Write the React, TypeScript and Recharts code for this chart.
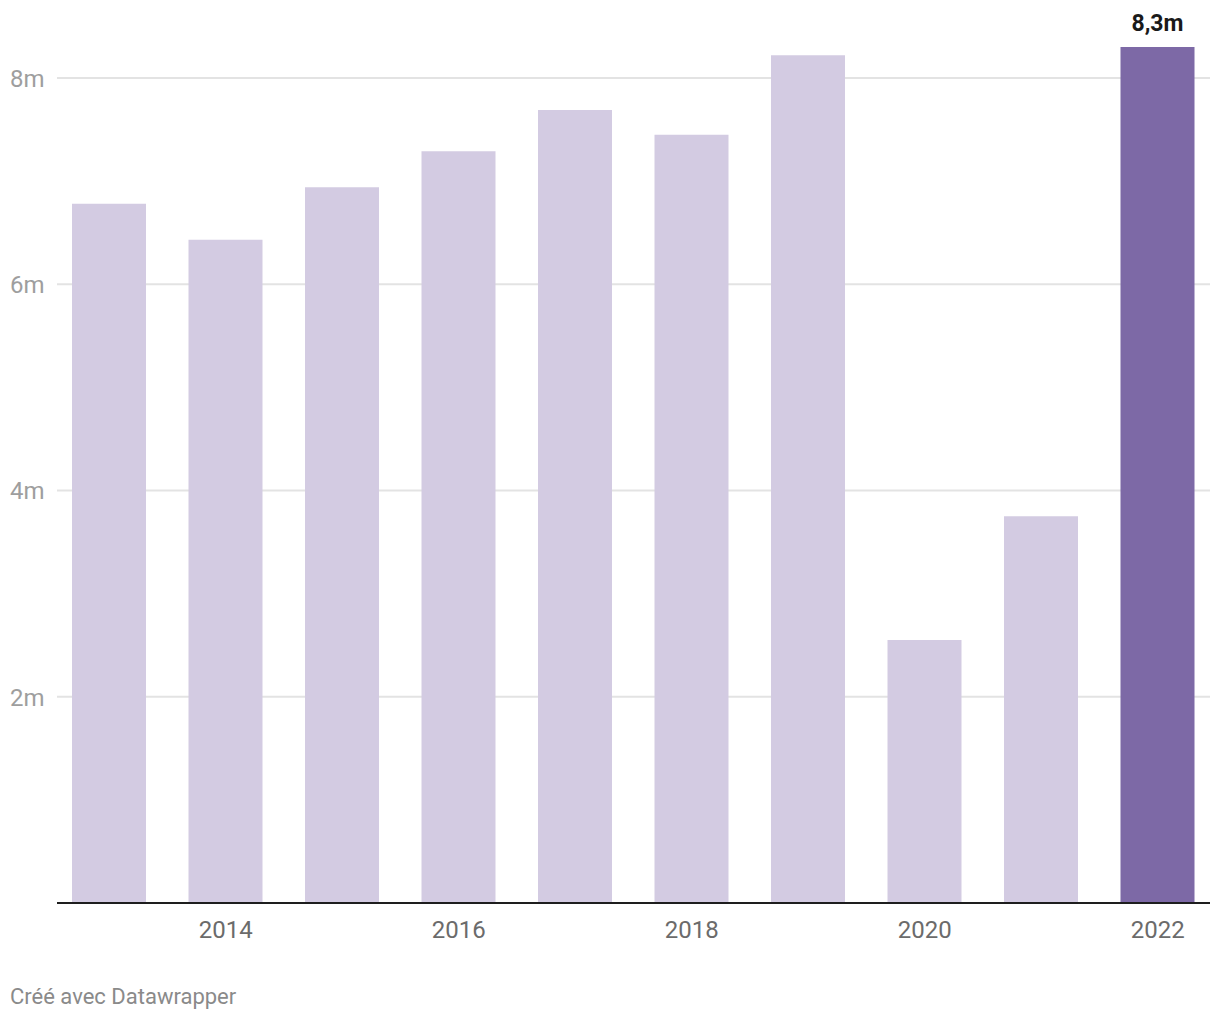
import { BarChart, Bar, XAxis, YAxis, CartesianGrid, Cell, LabelList } from "recharts";

const years = ["2013", "2014", "2015", "2016", "2017", "2018", "2019", "2020", "2021", "2022"];
const values = [6.78, 6.43, 6.94, 7.29, 7.69, 7.45, 8.22, 2.55, 3.75, 8.3];
const yTicks = [0, 2, 4, 6, 8];
const labeledYears = ["2014", "2016", "2018", "2020", "2022"];

const data = years.map((year, i) => ({ year, value: values[i] }));

const LIGHT = "#d3cbe2";
const DARK = "#7d69a6";
const FONT = "Roboto, sans-serif";
const PLOT_TOP = 47;

function YTick(props: any) {
  const { y, payload } = props;
  if (payload.value === 0) return null;
  return (
    <text x={10} y={y} dy={9} textAnchor="start" fill="#9e9e9e" fontSize={24} fontFamily={FONT}>
      {payload.value}m
    </text>
  );
}

function XTick(props: any) {
  const { x, payload } = props;
  if (!labeledYears.includes(payload.value)) return null;
  return (
    <text x={x} y={938} textAnchor="middle" fill="#6b6b6b" fontSize={24} fontFamily={FONT}>
      {payload.value}
    </text>
  );
}

function TopLabel(props: any) {
  const { x, y, width, index } = props;
  if (index !== data.length - 1) return null;
  return (
    <text x={x + width / 2} y={y - 16} textAnchor="middle" fill="#1a1a1a" fontSize={23} fontWeight={700} fontFamily={FONT}>
      {String(values[index]).replace(".", ",")}m
    </text>
  );
}

// skip the line at the very top of the plot (domain end), keep tick lines
function GridLine(props: any) {
  const { x1, x2, y1, y2, index } = props;
  if (y1 < PLOT_TOP + 5) return <g key={`h-${index}`} />;
  return <line key={`h-${index}`} x1={x1} x2={x2} y1={y1} y2={y2} stroke="#e3e3e3" strokeWidth={2} />;
}

export default function App() {
  return (
    <div style={{ position: "absolute", left: 0, top: 0, width: 1220, height: 1020, background: "#fff" }}>
      <BarChart
        width={1220}
        height={1020}
        data={data}
        margin={{ top: PLOT_TOP, right: 10, bottom: 87, left: 0 }}
        barSize={74}
      >
        <CartesianGrid vertical={false} horizontal={(p: any) => <GridLine {...p} />} />
        <XAxis
          dataKey="year"
          height={30}
          padding={{ left: -6, right: -6 }}
          axisLine={{ stroke: "#1e1e1e", strokeWidth: 2 }}
          tickLine={false}
          tick={<XTick />}
          interval={0}
        />
        <YAxis
          width={57}
          domain={[0, 8.3]}
          ticks={yTicks}
          axisLine={false}
          tickLine={false}
          tick={<YTick />}
        />
        <Bar dataKey="value" isAnimationActive={false}>
          {data.map((_d, i) => (
            <Cell key={`c-${i}`} fill={i === data.length - 1 ? DARK : LIGHT} />
          ))}
          <LabelList dataKey="value" content={<TopLabel />} />
        </Bar>
      </BarChart>
      <div
        style={{
          position: "absolute",
          left: 10,
          top: 986,
          fontFamily: FONT,
          fontSize: 22,
          lineHeight: "22px",
          color: "#8a8a8a",
          whiteSpace: "nowrap",
        }}
      >
        Créé avec Datawrapper
      </div>
    </div>
  );
}
